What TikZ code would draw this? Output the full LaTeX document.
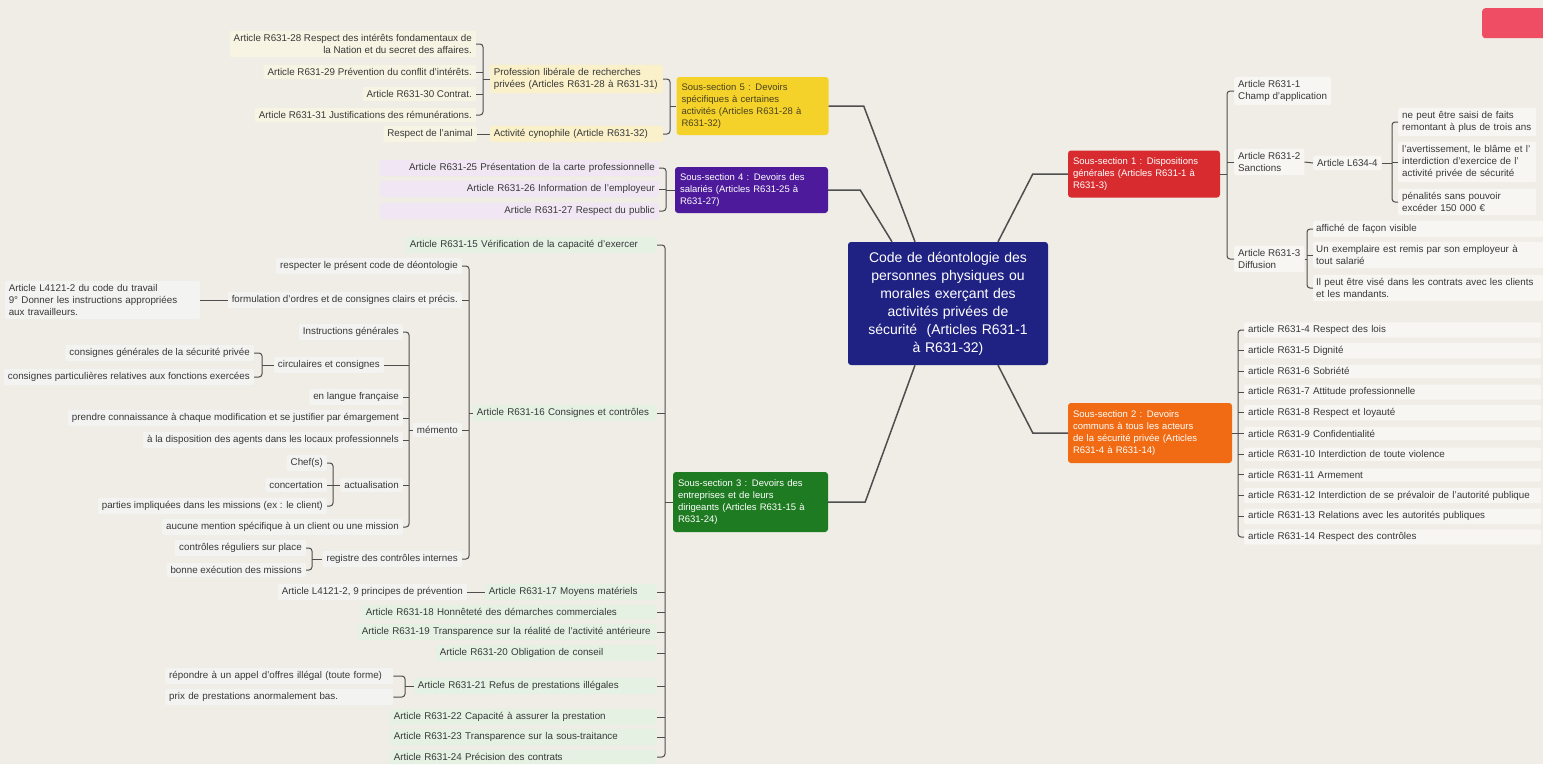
\documentclass[tikz,border=0pt]{standalone}
\usepackage{fontspec}
\setmainfont{Liberation Sans}
\definecolor{cBg}{HTML}{EFEDE6}
\definecolor{cLine}{HTML}{4E4E4E}
\definecolor{cTxt}{HTML}{383838}
\definecolor{cRoot}{HTML}{1F2183}
\definecolor{cYel}{HTML}{F4D22A}
\definecolor{cYelTxt}{HTML}{4A4220}
\definecolor{cYelPale}{HTML}{FAF0C9}
\definecolor{cYelPaler}{HTML}{F8F4E3}
\definecolor{cPur}{HTML}{4C1A9A}
\definecolor{cPurPale}{HTML}{F1E7F4}
\definecolor{cGrn}{HTML}{1E7B22}
\definecolor{cGrnPale}{HTML}{E4F1E3}
\definecolor{cGrnPaler}{HTML}{F3F4F1}
\definecolor{cRed}{HTML}{D82B2F}
\definecolor{cOra}{HTML}{F06B14}
\definecolor{cWhitePale}{HTML}{F7F6F3}
\definecolor{cBadge}{HTML}{EE4D63}
\tikzset{
  every node/.style={font=\fontsize{9.8}{12}\selectfont, text=cTxt,
    inner xsep=4pt, inner ysep=3.5pt, rounded corners=2pt},
  leafL/.style={anchor=east, align=right},
  leafR/.style={anchor=west, align=left},
  boxL/.style={anchor=east, align=left, text width=#1},
  boxR/.style={anchor=west, align=left, text width=#1},
  subsec/.style={align=left, text=white, inner xsep=5pt, inner ysep=3pt,
    rounded corners=3pt, font=\fontsize{9.5}{12.2}\selectfont},
  root/.style={fill=cRoot, text=white, align=center, rounded corners=3pt,
    minimum width=200pt, minimum height=123pt, text width=192pt,
    font=\fontsize{14}{18}\selectfont},
  branch/.style={draw=cLine, line width=1.5pt},
  brk/.style={draw=cLine, line width=1pt, rounded corners=3pt},
}
\begin{document}
\begin{tikzpicture}[x=1pt, y=-1pt]
\useasboundingbox (0,0) rectangle (1543,764);
\fill[cBg] (0,0) rectangle (1543,764);

% ---------- central topic and sub-sections ----------
\node[root] (root) at (948,303.5) {Code de déontologie des\\personnes physiques ou\\morales exerçant des\\activités privées de\\sécurité\ \ (Articles R631-1\\à R631-32)};

\node[subsec, fill=cYel, text=cYelTxt, text width=142pt, minimum height=58pt] (s5) at (752.5,106)
  {Sous-section 5 : Devoirs\\spécifiques à certaines\\activités (Articles R631-28 à\\R631-32)};
\node[subsec, fill=cPur, text width=143pt, minimum height=46pt] (s4) at (751.5,190)
  {Sous-section 4 : Devoirs des\\salariés (Articles R631-25 à\\R631-27)};
\node[subsec, fill=cGrn, text width=145pt, minimum height=60pt] (s3) at (750.5,502)
  {Sous-section 3 : Devoirs des\\entreprises et de leurs\\dirigeants (Articles R631-15 à\\R631-24)};
\node[subsec, fill=cRed, text width=142pt, minimum height=47pt] (s1) at (1144,174)
  {Sous-section 1 : Dispositions\\générales (Articles R631-1 à\\R631-3)};
\node[subsec, fill=cOra, text width=154pt, minimum height=60pt] (s2) at (1150,433)
  {Sous-section 2 : Devoirs\\communs à tous les acteurs\\de la sécurité privée (Articles\\R631-4 à R631-14)};

\draw[branch] (s5.east) -- ++(35,0) -- ([xshift=-33pt]root.north);
\draw[branch] (s4.east) -- ++(32,0) -- ([xshift=-56pt]root.north);
\draw[branch] (s3.east) -- ++(37,0) -- ([xshift=-33pt]root.south);
\draw[branch] (s1.west) -- ++(-35,0) -- ([xshift=50pt]root.north);
\draw[branch] (s2.west) -- ++(-35,0) -- ([xshift=50pt]root.south);

% bracket columns
\coordinate (kS1) at (1227,0);
\coordinate (kL)  at (1392,0);
\coordinate (kD)  at (1307,0);
\coordinate (kS2) at (1238,0);
\coordinate (kS5) at (670,0);
\coordinate (kP)  at (483,0);
\coordinate (kS4) at (666,0);
\coordinate (kS3) at (665,0);
\coordinate (kG2) at (469,0);
\coordinate (kM)  at (409,0);
\coordinate (kC)  at (262,0);
\coordinate (kA)  at (333,0);
\coordinate (kR)  at (312,0);
\coordinate (kG7) at (405,0);

% ---------- Sous-section 1 ----------
\node[leafR, fill=cWhitePale] (a1) at (1234,91) {Article R631-1\\Champ d'application};
\node[leafR, fill=cWhitePale] (a2) at (1234,162) {Article R631-2\\Sanctions};
\node[leafR, fill=cWhitePale] (a3) at (1234,259) {Article R631-3\\Diffusion};
\node[leafR, fill=cWhitePale] (l4) at (1313,163) {Article L634-4};
\node[boxR=130pt, fill=cWhitePale] (b1) at (1398,122) {ne peut être saisi de faits\\remontant à plus de trois ans};
\node[boxR=130pt, fill=cWhitePale] (b2) at (1398,162) {l'avertissement, le blâme et l'\\interdiction d'exercice de l'\\activité privée de sécurité};
\node[boxR=130pt, fill=cWhitePale] (b3) at (1398,202) {pénalités sans pouvoir\\excéder 150 000 €};
\node[boxR=224pt, inner xsep=3pt, fill=cWhitePale] (c1) at (1313,229) {affiché de façon visible};
\node[boxR=224pt, inner xsep=3pt, fill=cWhitePale] (c2) at (1313,255) {Un exemplaire est remis par son employeur à\\tout salarié};
\node[boxR=224pt, inner xsep=3pt, fill=cWhitePale] (c3) at (1313,288) {\mbox{Il peut être visé dans les contrats avec les clients}\\et les mandants.};

\draw[brk] (s1.east) -- (s1.east -| kS1);
\draw[brk] (a1.west) -- (a1.west -| kS1) -- (a3.west -| kS1) -- (a3.west);
\draw[brk] (a2.west) -- (a2.west -| kS1);
\draw[brk] (a2.east) -- (l4.west);
\draw[brk] (l4.east) -- (l4.east -| kL);
\draw[brk] (b1.west) -- (b1.west -| kL) -- (b3.west -| kL) -- (b3.west);
\draw[brk] (b2.west) -- (b2.west -| kL);
\draw[brk] (a3.east) -- (a3.east -| kD);
\draw[brk] (c1.west) -- (c1.west -| kD) -- (c3.west -| kD) -- (c3.west);
\draw[brk] (c2.west) -- (c2.west -| kD);

% ---------- Sous-section 2 ----------
\foreach \i/\yy/\txt in {
  1/330/{article R631-4 Respect des lois},
  2/350.7/{article R631-5 Dignité},
  3/371.4/{article R631-6 Sobriété},
  4/392.1/{article R631-7 Attitude professionnelle},
  5/412.8/{article R631-8 Respect et loyauté},
  6/433.5/{article R631-9 Confidentialité},
  7/454.2/{article R631-10 Interdiction de toute violence},
  8/474.9/{article R631-11 Armement},
  9/495.6/{article R631-12 Interdiction de se prévaloir de l'autorité publique},
  10/516.3/{article R631-13 Relations avec les autorités publiques},
  11/537/{article R631-14 Respect des contrôles}}
  \node[boxR=289pt, fill=cWhitePale, inner ysep=3pt] (d\i) at (1244,\yy) {\mbox{\txt}};
\draw[brk] (s2.east) -- (s2.east -| kS2);
\draw[brk] (d1.west) -- (d1.west -| kS2) -- (d11.west -| kS2) -- (d11.west);
\foreach \i in {2,...,10} \draw[brk] (d\i.west) -- (d\i.west -| kS2);

% ---------- Sous-section 5 ----------
\node[boxL=165pt, fill=cYelPale] (p1) at (663,79) {Profession libérale de recherches\\privées (Articles R631-28 à R631-31)};
\node[boxL=165pt, fill=cYelPale] (p2) at (663,134) {Activité cynophile (Article R631-32)};
\node[leafL, fill=cYelPaler] (an) at (477,134) {Respect de l'animal};
\node[leafL, fill=cYelPaler] (q1) at (476,44) {Article R631-28 Respect des intérêts fondamentaux de\\la Nation et du secret des affaires.};
\node[leafL, fill=cYelPaler] (q2) at (476,72) {Article R631-29 Prévention du conflit d'intérêts.};
\node[leafL, fill=cYelPaler] (q3) at (476,94) {Article R631-30 Contrat.};
\node[leafL, fill=cYelPaler] (q4) at (476,115) {Article R631-31 Justifications des rémunérations.};

\draw[brk] (s5.west) -- (s5.west -| kS5);
\draw[brk] (p1.east) -- (p1.east -| kS5) -- (p2.east -| kS5) -- (p2.east);
\draw[brk] (an.east) -- (p2.west);
\draw[brk] (p1.west) -- (p1.west -| kP);
\draw[brk] (q1.east) -- (q1.east -| kP) -- (q4.east -| kP) -- (q4.east);
\draw[brk] (q2.east) -- (q2.east -| kP);
\draw[brk] (q3.east) -- (q3.east -| kP);

% ---------- Sous-section 4 ----------
\node[leafL, text width=271pt, fill=cPurPale] (e1) at (659,168) {Article R631-25 Présentation de la carte professionnelle};
\node[leafL, text width=271pt, fill=cPurPale] (e2) at (659,189) {Article R631-26 Information de l'employeur};
\node[leafL, text width=271pt, fill=cPurPale] (e3) at (659,211) {Article R631-27 Respect du public};
\draw[brk] (s4.west) -- (s4.west -| kS4);
\draw[brk] (e1.east) -- (e1.east -| kS4) -- (e3.east -| kS4) -- (e3.east);
\draw[brk] (e2.east) -- (e2.east -| kS4);

% ---------- Sous-section 3 ----------
\node[boxL=243pt, fill=cGrnPale] (g1) at (657,245) {Article R631-15 Vérification de la capacité d'exercer};
\node[boxL=176pt, fill=cGrnPale] (g2) at (657,413) {Article R631-16 Consignes et contrôles};
\node[boxL=164pt, fill=cGrnPale] (g3) at (657,592) {Article R631-17 Moyens matériels};
\node[boxL=287pt, fill=cGrnPale] (g4) at (657,612) {Article R631-18 Honnêteté des démarches commerciales};
\node[boxL=291pt, fill=cGrnPale] (g5) at (657,632) {\mbox{Article R631-19 Transparence sur la réalité de l'activité antérieure}};
\node[boxL=213pt, fill=cGrnPale] (g6) at (657,653) {Article R631-20 Obligation de conseil};
\node[boxL=235pt, fill=cGrnPale] (g7) at (657,686) {Article R631-21 Refus de prestations illégales};
\node[boxL=259pt, fill=cGrnPale] (g8) at (657,717) {Article R631-22 Capacité à assurer la prestation};
\node[boxL=259pt, fill=cGrnPale] (g9) at (657,737) {Article R631-23 Transparence sur la sous-traitance};
\node[boxL=259pt, fill=cGrnPale] (g10) at (657,757) {Article R631-24 Précision des contrats};

\draw[brk] (s3.west) -- (s3.west -| kS3);
\draw[brk] (g1.east) -- (g1.east -| kS3) -- (g10.east -| kS3) -- (g10.east);
\foreach \i in {2,...,9} \draw[brk] (g\i.east) -- (g\i.east -| kS3);

% R631-16 details
\node[leafL, fill=cGrnPaler] (h1) at (462,266) {respecter le présent code de déontologie};
\node[leafL, fill=cGrnPaler] (h2) at (462,300) {formulation d'ordres et de consignes clairs et précis.};
\node[leafL, fill=cGrnPaler] (h3) at (462,430) {mémento};
\node[leafL, fill=cGrnPaler] (h4) at (462,559) {registre des contrôles internes};
\node[boxL=187pt, fill=cGrnPaler] (note) at (200,300) {Article L4121-2 du code du travail\\9° Donner les instructions appropriées\\aux travailleurs.};

\draw[brk] (g2.west) -- (g2.west -| kG2);
\draw[brk] (h1.east) -- (h1.east -| kG2) -- (h4.east -| kG2) -- (h4.east);
\draw[brk] (h2.east) -- (h2.east -| kG2);
\draw[brk] (h3.east) -- (h3.east -| kG2);
\draw[brk] (note.east) -- (h2.west);

% mémento details
\node[leafL, fill=cGrnPaler] (m1) at (403,332) {Instructions générales};
\node[leafL, fill=cGrnPaler] (m2) at (384,365) {circulaires et consignes};
\node[leafL, fill=cGrnPaler] (m3) at (403,397) {en langue française};
\node[leafL, fill=cGrnPaler] (m4) at (403,418) {prendre connaissance à chaque modification et se justifier par émargement};
\node[leafL, fill=cGrnPaler] (m5) at (403,440) {à la disposition des agents dans les locaux professionnels};
\node[leafL, fill=cGrnPaler] (m6) at (403,485) {actualisation};
\node[leafL, fill=cGrnPaler] (m7) at (403,527) {aucune mention spécifique à un client ou une mission};

\draw[brk] (h3.west) -- (h3.west -| kM);
\draw[brk] (m1.east) -- (m1.east -| kM) -- (m7.east -| kM) -- (m7.east);
\foreach \i in {2,...,6} \draw[brk] (m\i.east) -- (m\i.east -| kM);

\node[leafL, fill=cGrnPaler] (n1) at (254,353) {consignes générales de la sécurité privée};
\node[leafL, fill=cGrnPaler] (n2) at (254,377) {consignes particulières relatives aux fonctions exercées};
\draw[brk] (m2.west) -- (m2.west -| kC);
\draw[brk] (n1.east) -- (n1.east -| kC) -- (n2.east -| kC) -- (n2.east);

\node[leafL, fill=cGrnPaler] (o1) at (327,463) {Chef(s)};
\node[leafL, fill=cGrnPaler] (o2) at (327,485) {concertation};
\node[leafL, fill=cGrnPaler] (o3) at (327,506) {parties impliquées dans les missions (ex : le client)};
\draw[brk] (m6.west) -- (m6.west -| kA);
\draw[brk] (o1.east) -- (o1.east -| kA) -- (o3.east -| kA) -- (o3.east);
\draw[brk] (o2.east) -- (o2.east -| kA);

\node[leafL, fill=cGrnPaler] (r1) at (306,548) {contrôles réguliers sur place};
\node[leafL, fill=cGrnPaler] (r2) at (306,570) {bonne exécution des missions};
\draw[brk] (h4.west) -- (h4.west -| kR);
\draw[brk] (r1.east) -- (r1.east -| kR) -- (r2.east -| kR) -- (r2.east);

% R631-17 and R631-21 details
\node[leafL, fill=cGrnPaler] (prev) at (467,592) {Article L4121-2, 9 principes de prévention};
\draw[brk] (prev.east) -- (g3.west);

\node[boxR=220pt, fill=cGrnPaler] (t1) at (165,676) {répondre à un appel d'offres illégal (toute forme)};
\node[boxR=220pt, fill=cGrnPaler] (t2) at (165,697) {prix de prestations anormalement bas.};
\draw[brk] (g7.west) -- (g7.west -| kG7);
\draw[brk] (t1.east) -- (t1.east -| kG7) -- (t2.east -| kG7) -- (t2.east);

% corner badge
\node[fill=cBadge, minimum width=66pt, minimum height=30pt, rounded corners=3pt, anchor=north west] (badge) at (1482,8) {};
\end{tikzpicture}
\end{document}
